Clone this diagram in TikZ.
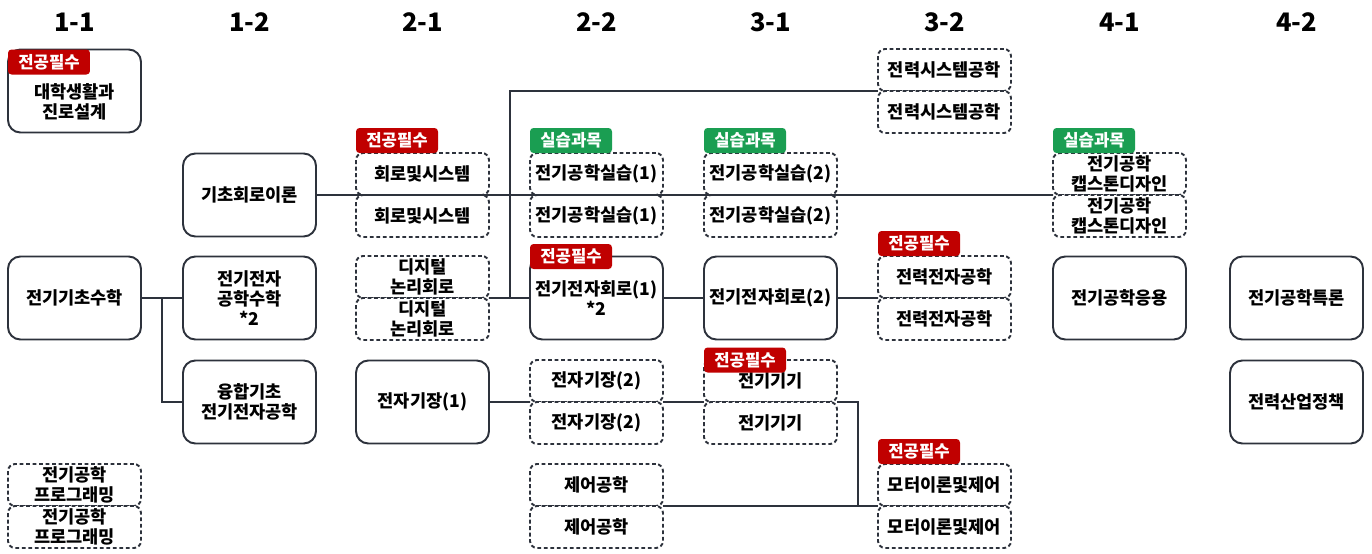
\documentclass[tikz,border=0pt]{standalone}
\usepackage{fontspec}
\setmainfont{Noto Sans CJK KR}
\usepackage{tikz}
\usetikzlibrary{positioning}

\definecolor{lineGray}{RGB}{45,50,60}
\definecolor{mustRed}{RGB}{192,0,0}
\definecolor{labGreen}{RGB}{26,158,82}

\begin{document}
\begin{tikzpicture}[x=0.02cm, y=-0.02cm]
			\tikzset{course/.style = {shape=rectangle, draw=lineGray, fill=white,
					line width=1.1pt, rounded corners=7pt, minimum width=2.66cm,
					minimum height=1.66cm, inner sep=0pt, outer sep=0pt, align=center,
					font=\fontsize{10}{11.5}\selectfont\bfseries}}
			\tikzset{half/.style = {course, dash pattern=on 2.2pt off 1.5pt,
					rounded corners=4pt, minimum height=0.84cm}}
			\tikzset{tag/.style = {shape=rectangle, rounded corners=2pt, text=white,
					minimum width=1.64cm, minimum height=0.5cm, inner sep=0pt,
					outer sep=0pt, font=\fontsize{9.5}{11}\selectfont\bfseries}}
			\tikzset{must/.style = {tag, fill=mustRed}}
			\tikzset{lab/.style = {tag, fill=labGreen}}
			\tikzset{head/.style = {font=\fontsize{14.5}{16}\selectfont\bfseries}}
			\tikzset{edge/.style = {draw=lineGray, line width=1.1pt}}
			
			\useasboundingbox (0,0) rectangle (1372,554);
			
			% semesters
			\node[head] (h11) at (74.5,22) {1-1};
			\node[head] (h12) at (249.5,22) {1-2};
			\node[head] (h21) at (422.5,22) {2-1};
			\node[head] (h22) at (596.5,22) {2-2};
			\node[head] (h31) at (770.5,22) {3-1};
			\node[head] (h32) at (944.5,22) {3-2};
			\node[head] (h41) at (1119.5,22) {4-1};
			\node[head] (h42) at (1296.5,22) {4-2};
			
			% vertices
			\node[course] (life) at (74.5,91) {\rule{0pt}{0.74cm}대학생활과\\진로설계};
			\node[course] (math) at (74.5,298) {전기기초수학};
			\node[half] (prog1) at (74.5,485) {전기공학\\프로그래밍};
			\node[half] (prog2) at (74.5,527) {전기공학\\프로그래밍};
			
			\node[course] (basic) at (249.5,195) {기초회로이론};
			\node[course] (eem) at (249.5,298) {전기전자\\공학수학\\*2};
			\node[course] (fus) at (249.5,402) {융합기초\\전기전자공학};
			
			\node[half] (cs1) at (422.5,174) {회로및시스템};
			\node[half] (cs2) at (422.5,216) {회로및시스템};
			\node[half] (dig1) at (422.5,277) {디지털\\논리회로};
			\node[half] (dig2) at (422.5,319) {디지털\\논리회로};
			\node[course] (em1) at (422.5,402) {전자기장(1)};
			
			\node[half] (lab11) at (596.5,174) {전기공학실습(1)};
			\node[half] (lab12) at (596.5,216) {전기공학실습(1)};
			\node[course] (ec1) at (596.5,298) {전기전자회로(1)\\*2};
			\node[half] (em21) at (596.5,381) {전자기장(2)};
			\node[half] (em22) at (596.5,423) {전자기장(2)};
			\node[half] (ctl1) at (596.5,485) {제어공학};
			\node[half] (ctl2) at (596.5,527) {제어공학};
			
			\node[half] (lab21) at (770.5,174) {전기공학실습(2)};
			\node[half] (lab22) at (770.5,216) {전기공학실습(2)};
			\node[course] (ec2) at (770.5,298) {전기전자회로(2)};
			\node[half] (mach1) at (770.5,381) {전기기기};
			\node[half] (mach2) at (770.5,423) {전기기기};
			
			\node[half] (ps1) at (944.5,70) {전력시스템공학};
			\node[half] (ps2) at (944.5,112) {전력시스템공학};
			\node[half] (pe1) at (944.5,277) {전력전자공학};
			\node[half] (pe2) at (944.5,319) {전력전자공학};
			\node[half] (mot1) at (944.5,485) {모터이론및제어};
			\node[half] (mot2) at (944.5,527) {모터이론및제어};
			
			\node[half] (cap1) at (1119.5,174) {전기공학\\캡스톤디자인};
			\node[half] (cap2) at (1119.5,216) {전기공학\\캡스톤디자인};
			\node[course] (app) at (1119.5,298) {전기공학응용};
			
			\node[course] (adv) at (1296.5,298) {전기공학특론};
			\node[course] (pol) at (1296.5,402) {전력산업정책};
			
			% junctions
			\coordinate (j0) at (162,298);
			\coordinate (j1) at (510,298);
			\coordinate (j2) at (858,506);
			
			%edges
			\draw[edge] (math) -- (eem);
			\draw[edge] (j0) |- (fus.west);
			\draw[edge] (basic.east) -- (cap1.south west);
			\draw[edge] (dig1.south east) -- (ec1.west);
			\draw[edge] (j1) |- (ps1.south west);
			\draw[edge] (ec1) -- (ec2);
			\draw[edge] (ec2.east) -- (pe1.south west);
			\draw[edge] (em1.east) -- (em21.south west);
			\draw[edge] (em21.south east) -- (mach1.south west);
			\draw[edge] (mach1.south east) -| (j2);
			\draw[edge] (ctl1.south east) -- (mot1.south west);
			
			% labels
			\node[must, anchor=north west] (lifeTag) at (life.north west) {전공필수};
			\node[must, anchor=south west] (csTag) at (cs1.north west) {전공필수};
			\node[lab, anchor=south west] (lab1Tag) at (lab11.north west) {실습과목};
			\node[must, anchor=west] (ec1Tag) at (ec1.north west) {전공필수};
			\node[lab, anchor=south west] (lab2Tag) at (lab21.north west) {실습과목};
			\node[must, anchor=west] (machTag) at (mach1.north west) {전공필수};
			\node[must, anchor=south west] (peTag) at (pe1.north west) {전공필수};
			\node[must, anchor=south west] (motTag) at (mot1.north west) {전공필수};
			\node[lab, anchor=south west] (capTag) at (cap1.north west) {실습과목};
			
			\end{tikzpicture}
\end{document}
